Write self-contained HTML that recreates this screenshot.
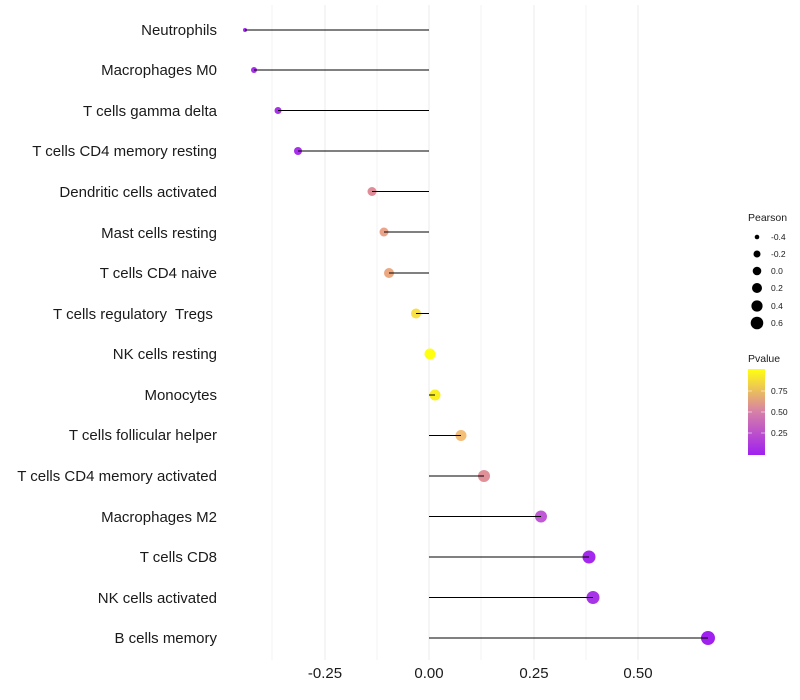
<!DOCTYPE html>
<html><head><meta charset="utf-8"><style>body{margin:0;background:#fff}svg{display:block}</style></head><body>
<svg width="800" height="700" xmlns="http://www.w3.org/2000/svg" font-family="Liberation Sans, sans-serif">
<defs><linearGradient id="g" x1="0" y1="1" x2="0" y2="0"><stop offset="0" stop-color="#a020f0"/><stop offset="0.5" stop-color="#d67fa8"/><stop offset="1" stop-color="#ffff10"/></linearGradient></defs>
<g stroke="#f3f3f3" stroke-width="1">
<line x1="272" y1="5" x2="272" y2="660"/><line x1="377" y1="5" x2="377" y2="660"/><line x1="481" y1="5" x2="481" y2="660"/><line x1="586" y1="5" x2="586" y2="660"/>
</g>
<g stroke="#ebebeb" stroke-width="1">
<line x1="325" y1="5" x2="325" y2="660"/><line x1="429" y1="5" x2="429" y2="660"/><line x1="534" y1="5" x2="534" y2="660"/><line x1="638" y1="5" x2="638" y2="660"/>
</g>
<g font-size="15" fill="#1a1a1a" text-anchor="end">
<text x="217" y="35">Neutrophils</text>
<text x="217" y="75">Macrophages M0</text>
<text x="217" y="116">T cells gamma delta</text>
<text x="217" y="156">T cells CD4 memory resting</text>
<text x="217" y="197">Dendritic cells activated</text>
<text x="217" y="238">Mast cells resting</text>
<text x="217" y="278">T cells CD4 naive</text>
<text x="217" y="319">T cells regulatory&#160; Tregs&#160;</text>
<text x="217" y="359">NK cells resting</text>
<text x="217" y="400">Monocytes</text>
<text x="217" y="440">T cells follicular helper</text>
<text x="217" y="481">T cells CD4 memory activated</text>
<text x="217" y="522">Macrophages M2</text>
<text x="217" y="562">T cells CD8</text>
<text x="217" y="603">NK cells activated</text>
<text x="217" y="643">B cells memory</text>
</g>
<g font-size="15" fill="#1a1a1a" text-anchor="middle">
<text x="325" y="678">-0.25</text><text x="429" y="678">0.00</text><text x="534" y="678">0.25</text><text x="638" y="678">0.50</text>
</g>
<g>
<circle cx="245" cy="30" r="2" fill="#a428ee"/>
<circle cx="254" cy="70" r="3" fill="#a830ec"/>
<circle cx="278" cy="110.5" r="3.5" fill="#a830ec"/>
<circle cx="298" cy="151" r="4" fill="#a830ec"/>
<circle cx="372" cy="191.5" r="4.5" fill="#e08c98"/>
<circle cx="384" cy="232" r="4.5" fill="#eba48a"/>
<circle cx="389" cy="273" r="5" fill="#eca880"/>
<circle cx="416" cy="313.5" r="5" fill="#f7e048"/>
<circle cx="430" cy="354" r="5.5" fill="#ffff10"/>
<circle cx="435" cy="395" r="5.5" fill="#faf020"/>
<circle cx="461" cy="435.5" r="5.5" fill="#f2be78"/>
<circle cx="484" cy="476" r="6" fill="#e09098"/>
<circle cx="541" cy="516.5" r="6" fill="#c058d8"/>
<circle cx="589" cy="557" r="6.5" fill="#a428ee"/>
<circle cx="593" cy="597.5" r="6.5" fill="#a834e8"/>
<circle cx="708" cy="638" r="7" fill="#a020f0"/>
</g>
<g stroke="#000" stroke-width="1">
<line x1="245" y1="30" x2="429" y2="30"/><line x1="254" y1="70" x2="429" y2="70"/><line x1="278" y1="110.5" x2="429" y2="110.5"/><line x1="298" y1="151" x2="429" y2="151"/>
<line x1="372" y1="191.5" x2="429" y2="191.5"/><line x1="384" y1="232" x2="429" y2="232"/><line x1="389" y1="273" x2="429" y2="273"/><line x1="416" y1="313.5" x2="429" y2="313.5"/>
<line x1="429" y1="395" x2="435" y2="395"/><line x1="429" y1="435.5" x2="461" y2="435.5"/><line x1="429" y1="476" x2="484" y2="476"/><line x1="429" y1="516.5" x2="541" y2="516.5"/>
<line x1="429" y1="557" x2="589" y2="557"/><line x1="429" y1="597.5" x2="593" y2="597.5"/><line x1="429" y1="638" x2="708" y2="638"/>
</g>
<text x="748" y="221" font-size="10.5" fill="#1a1a1a">Pearson</text>
<g fill="#000"><circle cx="757" cy="237" r="2.3"/><circle cx="757" cy="254" r="3.5"/><circle cx="757" cy="271" r="4.3"/><circle cx="757" cy="288" r="5"/><circle cx="757" cy="306" r="5.6"/><circle cx="757" cy="323" r="6.3"/></g>
<g font-size="8.5" fill="#1a1a1a"><text x="771" y="240">-0.4</text><text x="771" y="257">-0.2</text><text x="771" y="274">0.0</text><text x="771" y="291">0.2</text><text x="771" y="309">0.4</text><text x="771" y="326">0.6</text></g>
<text x="748" y="362" font-size="10.5" fill="#1a1a1a">Pvalue</text>
<rect x="748" y="369" width="17" height="86" fill="url(#g)"/>
<g stroke="#fff" stroke-width="0.8" opacity="0.7"><line x1="748" y1="391" x2="752" y2="391"/><line x1="761" y1="391" x2="765" y2="391"/><line x1="748" y1="412" x2="752" y2="412"/><line x1="761" y1="412" x2="765" y2="412"/><line x1="748" y1="433" x2="752" y2="433"/><line x1="761" y1="433" x2="765" y2="433"/></g>
<g font-size="8.5" fill="#1a1a1a"><text x="771" y="394">0.75</text><text x="771" y="415">0.50</text><text x="771" y="436">0.25</text></g>
</svg>
</body></html>
